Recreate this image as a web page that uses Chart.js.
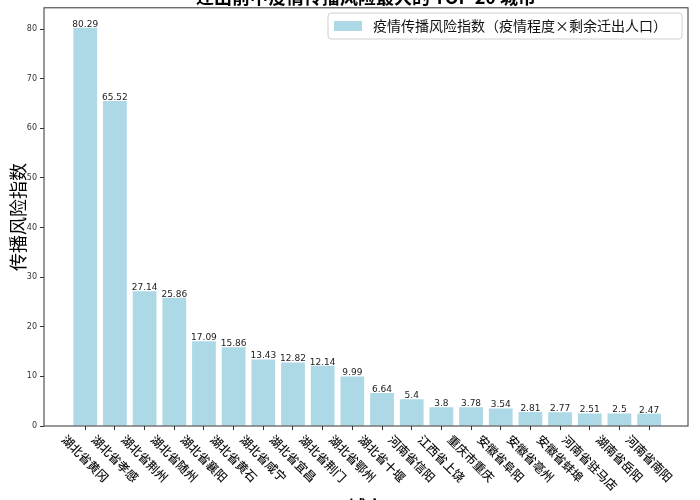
<!DOCTYPE html>
<html>
<head>
<meta charset="utf-8">
<script src="https://cdn.jsdelivr.net/npm/chart.js@4"></script>
<style>
  body { margin: 0; background: #fff; }
  canvas { display: block; }
</style>
</head>
<body>
<canvas id="chart" width="700" height="500"></canvas>
<script>
// data
const cities = ['湖北省黄冈', '湖北省孝感', '湖北省荆州', '湖北省随州', '湖北省襄阳',
  '湖北省黄石', '湖北省咸宁', '湖北省宜昌', '湖北省荆门', '湖北省鄂州',
  '湖北省十堰', '河南省信阳', '江西省上饶', '重庆市重庆', '安徽省阜阳',
  '安徽省亳州', '安徽省蚌埠', '河南省驻马店', '湖南省岳阳', '河南省南阳'];
const riskIndex = [80.29, 65.52, 27.14, 25.86, 17.09, 15.86, 13.43, 12.82, 12.14, 9.99,
  6.64, 5.4, 3.8, 3.78, 3.54, 2.81, 2.77, 2.51, 2.5, 2.47];
const yTicks = [0, 10, 20, 30, 40, 50, 60, 70, 80];

const seriesName = '疫情传播风险指数（疫情程度×剩余迁出人口）';
const chartTitle = '迁出前中疫情传播风险最大的 TOP 20 城市';
const cjk = '"Noto Sans CJK SC", sans-serif';

// value labels, rotated city names, frame, legend and titles
let extras = {
  id: 'extras',
  afterDraw(chart) {
    const ctx = chart.ctx;
    const area = chart.chartArea;
    const xs = chart.scales.x;
    const meta = chart.getDatasetMeta(0);

    ctx.save();
    ctx.strokeStyle = '#333';
    ctx.lineWidth = 1;
    ctx.strokeRect(area.left, area.top, area.right - area.left, area.bottom - area.top);

    // numbers above bars
    ctx.fillStyle = '#222';
    ctx.font = '9px "DejaVu Sans"';
    ctx.textAlign = 'center';
    ctx.textBaseline = 'bottom';
    meta.data.forEach((bar, i) => {
      ctx.fillText(String(riskIndex[i]), bar.x, bar.y + 1);
    });

    // city names turned 45 degrees
    ctx.font = '500 12px ' + cjk;
    ctx.fillStyle = '#111';
    ctx.textBaseline = 'middle';
    cities.forEach((c, i) => {
      const x = xs.getPixelForValue(i);
      const w = ctx.measureText(c).width;
      const h = 12;
      const boxH = (w + h) * Math.SQRT1_2;
      const cy = area.bottom + 7 + boxH / 2;
      ctx.save();
      ctx.translate(x, cy);
      ctx.rotate(Math.PI / 4);
      ctx.fillText(c, 0, 0);
      ctx.restore();
    });

    // legend
    const lx = 328, ly = 13, lw = 354, lh = 26;
    ctx.fillStyle = 'rgba(255,255,255,0.85)';
    ctx.strokeStyle = '#d0d0d0';
    ctx.beginPath();
    ctx.roundRect(lx, ly, lw, lh, 3);
    ctx.fill();
    ctx.stroke();
    ctx.fillStyle = '#add8e6';
    ctx.fillRect(334, 21, 28, 10);
    ctx.fillStyle = '#111';
    ctx.font = '14px ' + cjk;
    ctx.textAlign = 'left';
    ctx.fillText(seriesName, 373, 26);

    // titles (cut by the picture edge, as in the original)
    ctx.textAlign = 'center';
    ctx.font = 'bold 18px ' + cjk;
    ctx.fillStyle = '#000';
    ctx.fillText(chartTitle, (area.left + area.right) / 2, -3);
    ctx.fillText('城市', (area.left + area.right) / 2, 507);
    ctx.restore();
  }
};

new Chart(document.getElementById('chart'), {
  type: 'bar',
  data: {
    datasets: [{
      label: seriesName,
      data: riskIndex.map((v, i) => ({ x: i, y: v })),
      backgroundColor: '#add8e6',
      borderWidth: 0,
      barPercentage: 0.8,
      categoryPercentage: 1
    }]
  },
  options: {
    responsive: false,
    animation: false,
    layout: { padding: { top: 7, right: 12, left: 0, bottom: 0 } },
    plugins: {
      legend: { display: false },
      tooltip: { enabled: false }
    },
    scales: {
      x: {
        type: 'linear',
        offset: false,
        min: -1.39,
        max: 20.31,
        afterBuildTicks: s => { s.ticks = cities.map((c, i) => ({ value: i })); },
        afterFit: s => { s.height = 74; },
        ticks: { display: false },
        grid: { offset: false, drawOnChartArea: false, tickLength: 4, color: '#333' },
        border: { display: false }
      },
      y: {
        min: 0,
        max: 84.3,
        afterBuildTicks: s => { s.ticks = yTicks.map(v => ({ value: v })); },
        afterFit: s => { s.width = 44; },
        ticks: {
          padding: 3,
          color: '#333',
          font: { family: 'DejaVu Sans', size: 8 }
        },
        grid: { drawOnChartArea: false, tickLength: 4, color: '#333' },
        border: { display: false },
        title: {
          display: true,
          text: '传播风险指数',
          color: '#000',
          font: { family: cjk, size: 18 },
          padding: { top: 7, bottom: 0 }
        }
      }
    }
  },
  plugins: [extras]
});
</script>
</body>
</html>
